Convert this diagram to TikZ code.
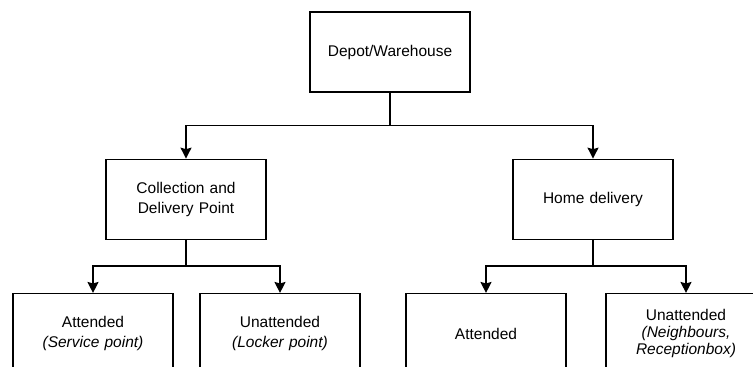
\documentclass[tikz,border=0pt]{standalone}
\usepackage{fontspec}
\setmainfont{Liberation Sans}
\usetikzlibrary{arrows.meta, positioning}

\begin{document}
\begin{tikzpicture}[
    x=1pt, y=1pt,
    node distance=66pt,
    block/.style={rectangle, draw, line width=1.3pt, minimum width=160pt, minimum height=80pt, text width=150pt, align=center, inner sep=0pt, font=\fontsize{15.5}{19.5}\selectfont},
    line/.style={draw, line width=1.3pt, -{Stealth[length=11pt, width=11pt, inset=1.5pt]}}
]
    \useasboundingbox (0,0) rectangle (753,-367);
    \clip (0,0) rectangle (753,-367);

    % Level 1: depot
    \node [block] (depot) at (390,-52) {Depot/Warehouse};

    % Level 2: delivery options
    \node [block, below=66pt of depot, xshift=-204pt] (cdp) {Collection and\\Delivery Point};
    \node [block, below=66pt of depot, xshift=203pt] (home) {Home delivery};

    % Level 3: attended / unattended
    \node [block, below=53pt of cdp, xshift=-93pt] (cdp_att) {Attended\\\textit{(Service point)}};
    \node [block, below=53pt of cdp, xshift=94pt] (cdp_unatt) {Unattended\\\textit{(Locker point)}};
    \node [block, below=53pt of home, xshift=-107pt] (home_att) {Attended};
    \node [block, below=53pt of home, xshift=93pt, font=\fontsize{15.5}{17}\selectfont] (home_unatt) {Unattended\\\textit{(Neighbours,}\\\textit{Receptionbox)}};

    % Connections
    \path [line] (depot.south) -- ++(0,-33) -| (cdp.north);
    \path [line] (depot.south) -- ++(0,-33) -| (home.north);
    \path [line] (cdp.south) -- ++(0,-26) -| (cdp_att.north);
    \path [line] (cdp.south) -- ++(0,-26) -| (cdp_unatt.north);
    \path [line] (home.south) -- ++(0,-26) -| (home_att.north);
    \path [line] (home.south) -- ++(0,-26) -| (home_unatt.north);

\end{tikzpicture}
\end{document}
